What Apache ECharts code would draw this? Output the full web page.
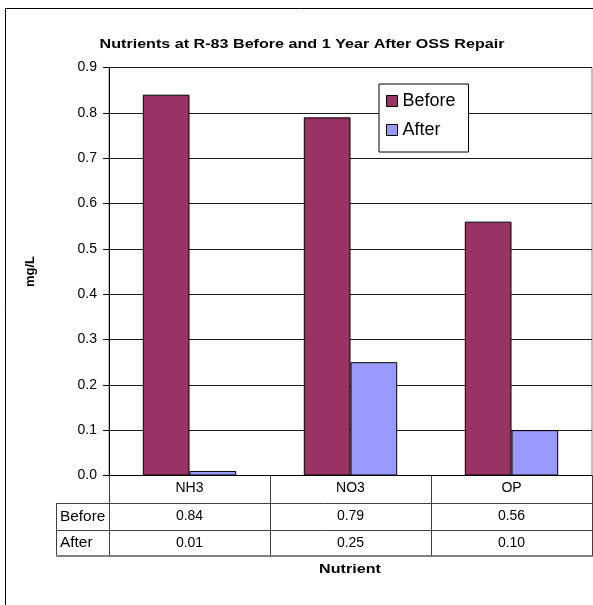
<!DOCTYPE html>
<html>
<head>
<meta charset="utf-8">
<script src="https://cdn.jsdelivr.net/npm/echarts@6/dist/echarts.min.js"></script>
<style>
  html, body { margin: 0; padding: 0; background: #fff; }
  #chart { width: 593px; height: 605px; }
</style>
</head>
<body>
<div id="chart"></div>
<script>
// Nutrient concentrations (mg/L) at station R-83
const nutrients = ['NH3', 'NO3', 'OP'];
const beforeValues = [0.84, 0.79, 0.56];
const afterValues = [0.01, 0.25, 0.10];
const seriesNames = ['Before', 'After'];
const yTicks = { min: 0, max: 0.9, step: 0.1 };

const FONT = '"Liberation Sans", Arial, sans-serif';
const TABLE_LINE = '#404040';
// the drawing's lettering is set a little wide
const WIDE = 1.24;

const chart = echarts.init(document.getElementById('chart'), null, { renderer: 'canvas' });

// Data-table row axes: each one reprints the category slots with one series' values
function tableAxis(values, offset) {
  return {
    type: 'category',
    data: nutrients,
    position: 'bottom',
    offset: offset,
    axisLine: { show: false },
    axisTick: { show: false },
    axisLabel: {
      interval: 0,
      margin: 7,
      fontFamily: FONT,
      fontSize: 14,
      color: '#000',
      formatter: (v, i) => values[i].toFixed(2)
    }
  };
}

const option = {
  backgroundColor: '#fff',
  animation: false,
  legend: {
    data: seriesNames,
    orient: 'vertical',
    left: 379,
    top: 84,
    padding: [8, 13, 13, 7],
    itemGap: 11,
    itemWidth: 11,
    itemHeight: 11,
    itemTextGap: 5,
    icon: 'rect',
    backgroundColor: '#fff',
    borderColor: '#000',
    borderWidth: 1,
    borderRadius: 0,
    itemStyle: { borderColor: '#000', borderWidth: 1 },
    textStyle: { fontFamily: FONT, fontSize: 18, color: '#000' }
  },
  grid: {
    left: 109,
    right: 1,
    top: 67.5,
    bottom: 129.5,
    show: true,
    borderColor: '#808080',
    borderWidth: 1,
    containLabel: false
  },
  xAxis: [
    {
      type: 'category',
      data: nutrients,
      position: 'bottom',
      axisLine: { show: true, lineStyle: { color: '#000', width: 1 } },
      axisTick: { show: true, length: 80, lineStyle: { color: TABLE_LINE, width: 1 } },
      axisLabel: { interval: 0, margin: 6, fontFamily: FONT, fontSize: 14, color: '#000' },
      splitLine: { show: false }
    },
    tableAxis(beforeValues, 27),
    tableAxis(afterValues, 54)
  ],
  yAxis: {
    type: 'value',
    min: yTicks.min,
    max: yTicks.max,
    interval: yTicks.step,
    name: 'mg/L',
    nameLocation: 'middle',
    nameGap: 72,
    nameTextStyle: { fontFamily: FONT, fontSize: 13, fontWeight: 'bold', color: '#000' },
    axisLine: { show: true, lineStyle: { color: '#000', width: 1 } },
    axisTick: { show: true, length: 6, lineStyle: { color: '#000' } },
    axisLabel: {
      margin: 12,
      fontFamily: FONT,
      fontSize: 14,
      color: '#000',
      formatter: v => v.toFixed(1)
    },
    splitLine: { show: true, lineStyle: { color: '#1a1a1a', width: 1 } }
  },
  series: [
    {
      name: seriesNames[0],
      type: 'bar',
      data: beforeValues,
      barGap: '0%',
      barCategoryGap: '42%',
      itemStyle: { color: '#993366', borderColor: '#000', borderWidth: 1 }
    },
    {
      name: seriesNames[1],
      type: 'bar',
      data: afterValues,
      barGap: '0%',
      barCategoryGap: '42%',
      itemStyle: { color: '#9999FF', borderColor: '#000', borderWidth: 1 }
    }
  ],
  graphic: [
    // outer chart frame
    { type: 'rect', silent: true, shape: { x: 5.5, y: 8.5, width: 620, height: 620 },
      style: { fill: 'none', stroke: '#000', lineWidth: 1 } },
    // chart title
    { type: 'text', silent: true, x: 302, y: 44, scaleX: WIDE,
      style: { text: 'Nutrients at R-83 Before and 1 Year After OSS Repair',
               font: 'bold 13px ' + FONT, fill: '#000',
               textAlign: 'center', textVerticalAlign: 'middle' } },
    // data-table row borders
    { type: 'line', silent: true, shape: { x1: 56.5, y1: 503.5, x2: 593, y2: 503.5 },
      style: { stroke: TABLE_LINE, lineWidth: 1 } },
    { type: 'line', silent: true, shape: { x1: 56.5, y1: 530.5, x2: 593, y2: 530.5 },
      style: { stroke: TABLE_LINE, lineWidth: 1 } },
    { type: 'line', silent: true, shape: { x1: 56.5, y1: 503, x2: 56.5, y2: 556 },
      style: { stroke: TABLE_LINE, lineWidth: 1 } },
    { type: 'line', silent: true, shape: { x1: 56, y1: 556, x2: 593, y2: 556 },
      style: { stroke: '#808080', lineWidth: 2 } },
    // row headers
    { type: 'text', silent: true, x: 60, y: 517, scaleX: 1.1,
      style: { text: seriesNames[0], font: '14px ' + FONT, fill: '#000',
               textAlign: 'left', textVerticalAlign: 'middle' } },
    { type: 'text', silent: true, x: 60, y: 543.5, scaleX: 1.1,
      style: { text: seriesNames[1], font: '14px ' + FONT, fill: '#000',
               textAlign: 'left', textVerticalAlign: 'middle' } },
    // category axis title
    { type: 'text', silent: true, x: 350, y: 569, scaleX: WIDE,
      style: { text: 'Nutrient', font: 'bold 13px ' + FONT, fill: '#000',
               textAlign: 'center', textVerticalAlign: 'middle' } }
  ]
};

chart.setOption(option);
</script>
</body>
</html>
